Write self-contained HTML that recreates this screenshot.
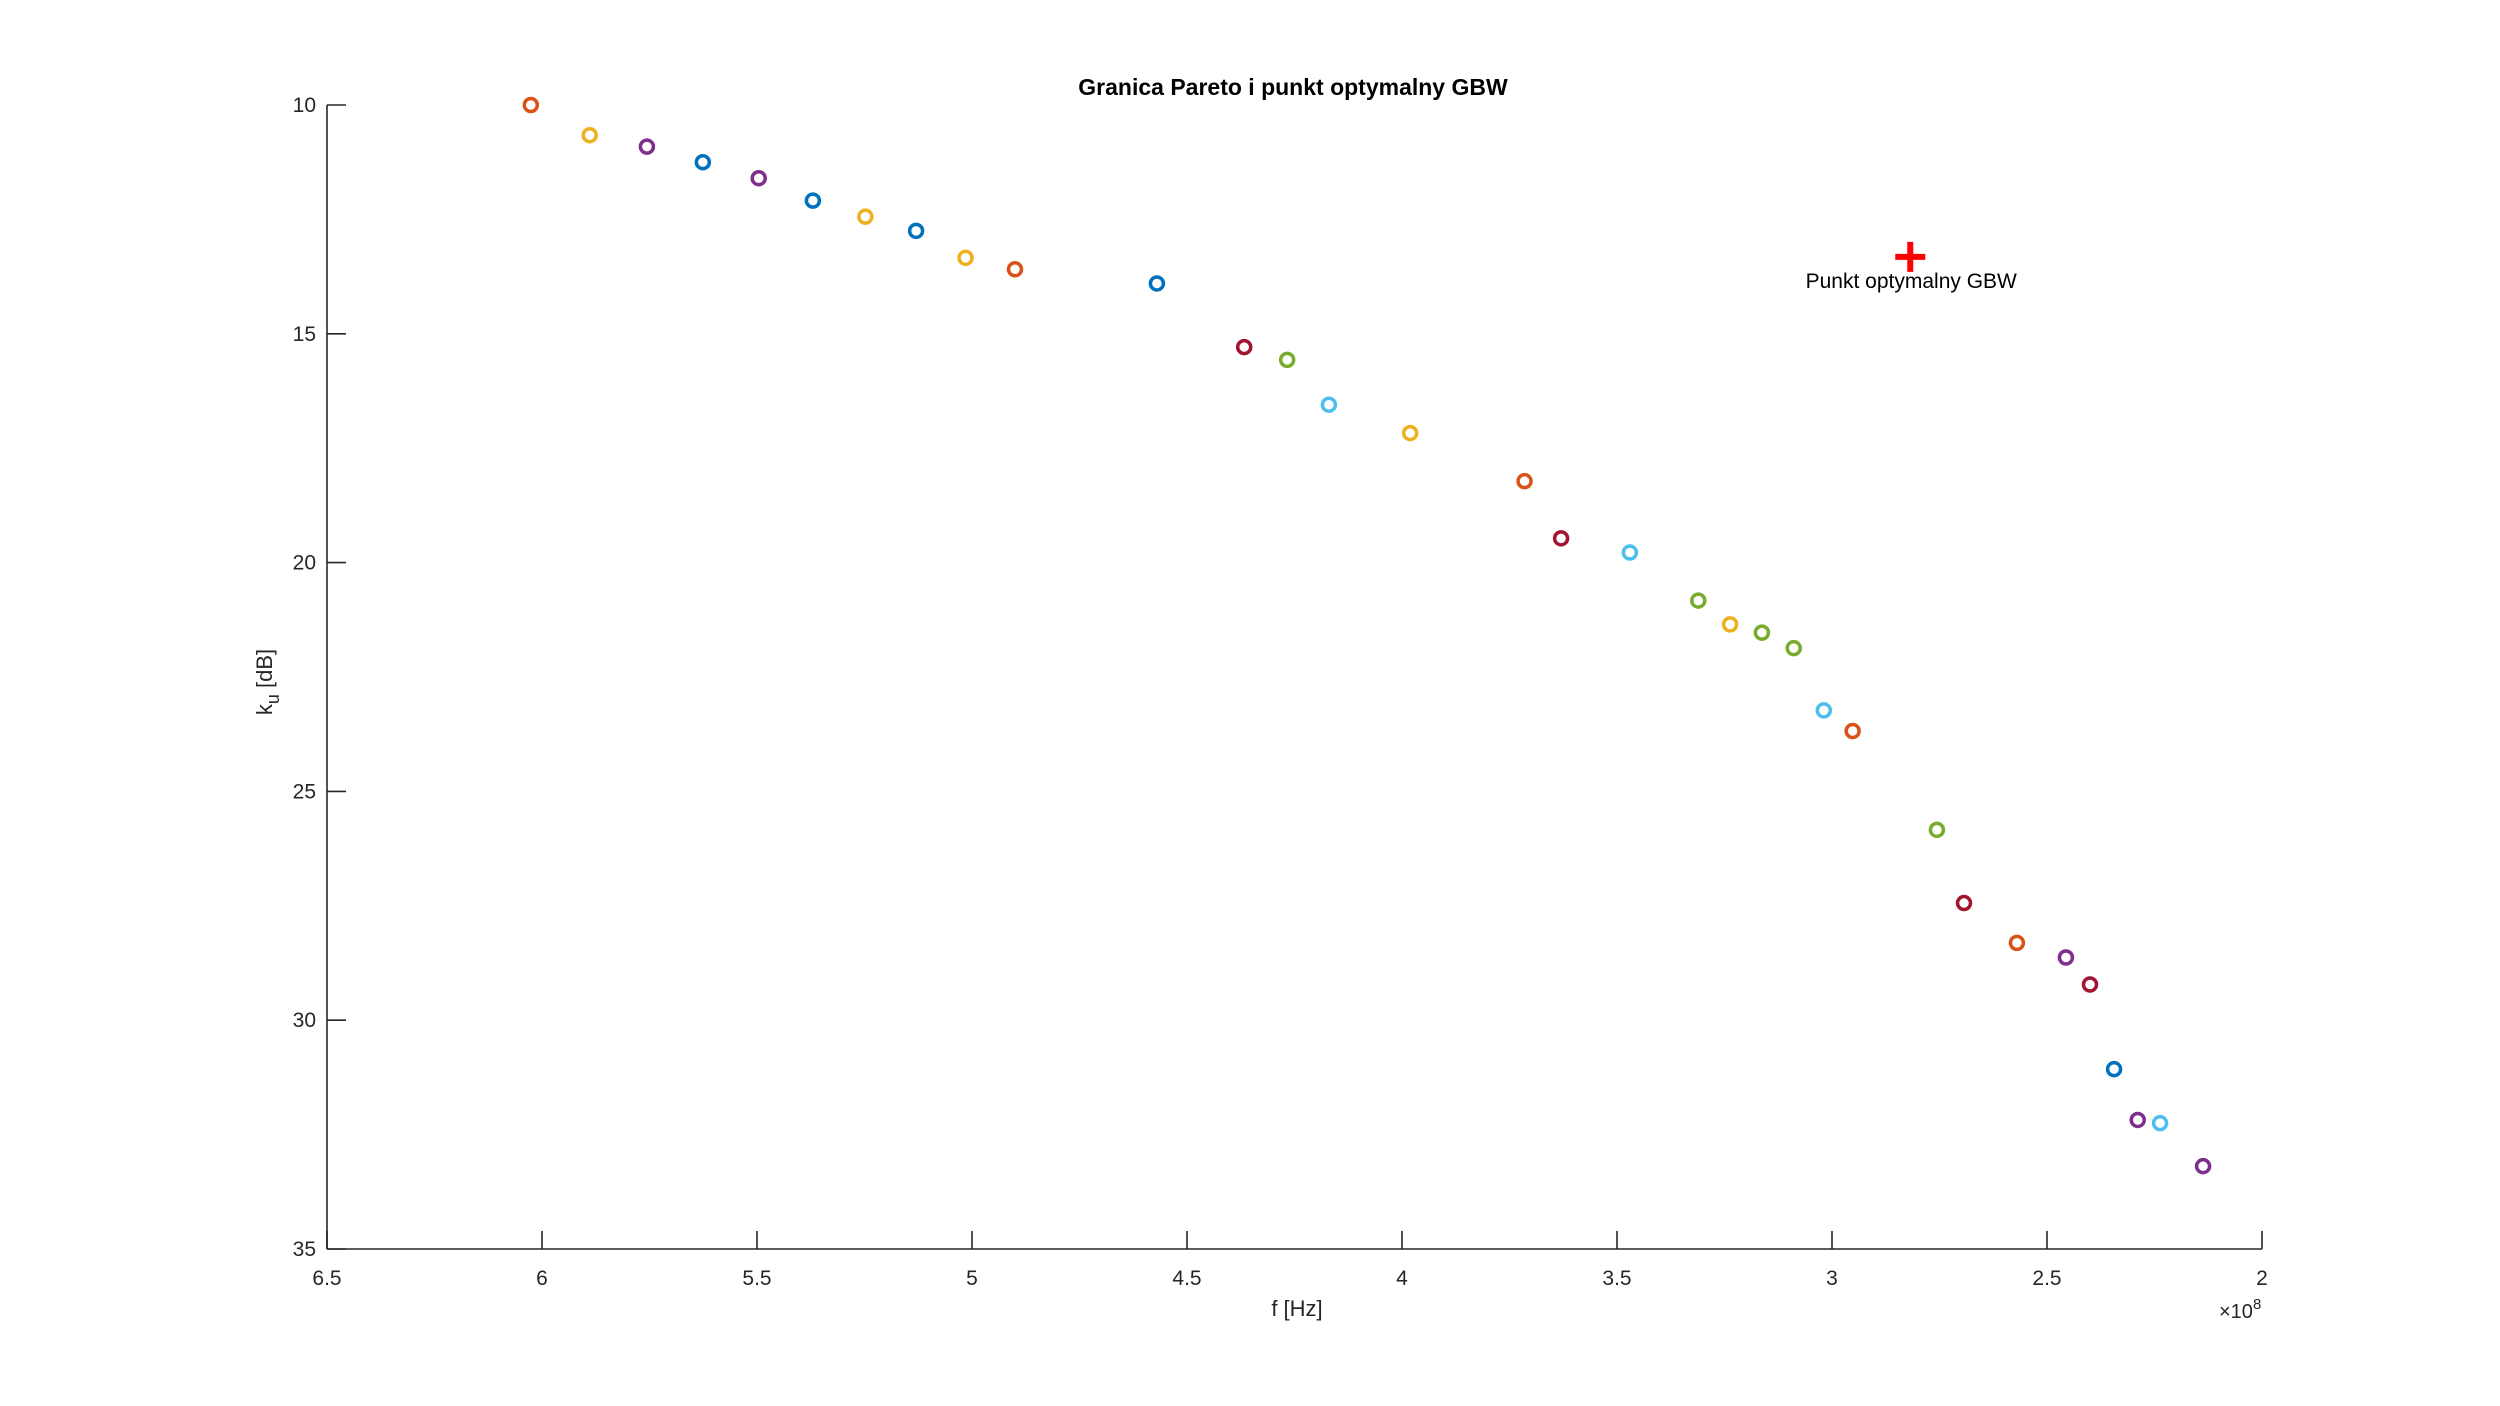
<!DOCTYPE html>
<html><head><meta charset="utf-8"><style>
html,body{margin:0;padding:0;background:#fff;}
svg{display:block;font-family:"Liberation Sans",Arial,sans-serif;}
</style></head><body>
<svg id="chart" width="2500" height="1406" viewBox="0 0 2500 1406" xmlns="http://www.w3.org/2000/svg">
<rect width="2500" height="1406" fill="#fff"/>
<text x="1293" y="95" text-anchor="middle" font-size="23" font-weight="bold" fill="#000">Granica Pareto i punkt optymalny GBW</text>
<g id="axes"></g>
<g id="marks"></g>
<text x="1297" y="1316" text-anchor="middle" font-size="22" fill="#262626">f [Hz]</text>
<text transform="translate(272,682) rotate(-90)" text-anchor="middle" font-size="22" fill="#262626">k<tspan dy="7" font-size="18">u</tspan><tspan dy="-7"> [dB]</tspan></text>
<text x="2219" y="1318" font-size="20" fill="#262626">×10<tspan dy="-9" font-size="15">8</tspan></text>
</svg>
<script>
const freqs = [6.026,5.889,5.756,5.626,5.496,5.370,5.248,5.130,5.015,4.900,4.570,4.367,4.267,4.170,3.981,3.715,3.630,3.470,3.311,3.237,3.163,3.089,3.019,2.952,2.756,2.693,2.570,2.456,2.400,2.344,2.289,2.237,2.137];
const gains = [10.0,10.66,10.91,11.25,11.60,12.09,12.44,12.75,13.34,13.59,13.90,15.29,15.57,16.55,17.17,18.22,19.47,19.78,20.83,21.35,21.53,21.87,23.23,23.68,25.84,27.44,28.31,28.63,29.22,31.07,32.18,32.25,33.19];
const colorIdx = [1,2,3,0,3,0,2,0,2,1,0,6,4,5,2,1,6,5,4,2,4,4,5,1,4,6,1,3,6,0,3,5,3];
const palette = ['#0072BD','#D95319','#EDB120','#7E2F8E','#77AC30','#4DBEEE','#A2142F'];
const optF = [2.818];
const optG = [13.32];
const xTicks = [6.5,6,5.5,5,4.5,4,3.5,3,2.5,2];
const xTickLabels = ['6.5','6','5.5','5','4.5','4','3.5','3','2.5','2'];
const yTicks = [10,15,20,25,30,35];
const yTickLabels = ['10','15','20','25','30','35'];

const L=327,R=2262,T=105,B=1249;
const X=v=>L+(6.5-v)/4.5*(R-L);
const Y=v=>T+(v-10)/25*(B-T);
const NS='http://www.w3.org/2000/svg';
function mk(tag,attrs,parent){const e=document.createElementNS(NS,tag);for(const k in attrs)e.setAttribute(k,attrs[k]);parent.appendChild(e);return e;}
const ax=document.getElementById('axes'), mg=document.getElementById('marks');
let e;
e=mk('line',{x1:L,y1:T,x2:L,y2:B,stroke:'#262626','stroke-width':1.6},ax);


e=mk('line',{x1:L,y1:B,x2:R,y2:B,stroke:'#262626','stroke-width':1.6},ax);


xTicks.forEach((v,i)=>{
  const t=mk('line',{x1:X(v),y1:B,x2:X(v),y2:B-18,stroke:'#262626','stroke-width':1.6},ax);
  
  
  const l=mk('text',{x:X(v),y:B+36,'text-anchor':'middle','font-size':21,fill:'#262626'},ax);
  l.textContent=xTickLabels[i];
  
  
});
yTicks.forEach((v,i)=>{
  const t=mk('line',{x1:L,y1:Y(v),x2:L+19,y2:Y(v),stroke:'#262626','stroke-width':1.6},ax);
  
  
  const l=mk('text',{x:L-11,y:Y(v)+7,'text-anchor':'end','font-size':21,fill:'#262626'},ax);
  l.textContent=yTickLabels[i];
  
  
});
freqs.forEach((f,i)=>{
  const c=mk('circle',{cx:X(f),cy:Y(gains[i]),r:6.5,fill:'none',stroke:palette[colorIdx[i]],'stroke-width':3.5},mg);
  
  
});
optF.forEach((f,i)=>{
  const cx=X(f),cy=Y(optG[i]);
  const p=mk('path',{d:`M${cx-15},${cy}H${cx+15}M${cx},${cy-15}V${cy+15}`,stroke:'#FF0000','stroke-width':6,fill:'none'},mg);
  
  
  const t=mk('text',{x:cx+1,y:cy+31,'text-anchor':'middle','font-size':21,fill:'#000'},mg);
  t.textContent='Punkt optymalny GBW';
  
  
});
</script>
</body></html>
